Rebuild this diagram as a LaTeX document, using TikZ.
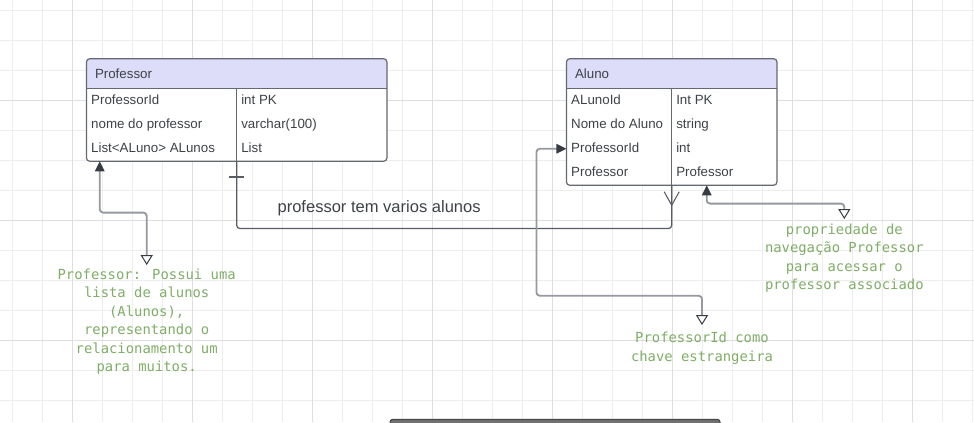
\documentclass[tikz,border=0pt]{standalone}
\usepackage{fontspec}
\setmainfont{Liberation Sans}
\newfontfamily\notefont{DejaVu Sans Mono}
\usetikzlibrary{arrows.meta,calc}

\definecolor{gridminor}{RGB}{237,237,237}
\definecolor{gridmajor}{RGB}{222,222,222}
\definecolor{headfill}{RGB}{221,221,250}
\definecolor{tableline}{RGB}{100,104,111}
\definecolor{textgray}{RGB}{62,66,72}
\definecolor{linkdark}{RGB}{88,92,100}
\definecolor{linklight}{RGB}{150,153,159}
\definecolor{tipdark}{RGB}{55,60,68}
\definecolor{notegreen}{RGB}{128,174,104}
\definecolor{barfill}{RGB}{112,112,112}
\definecolor{baredge}{RGB}{68,68,68}

\tikzset{
  gridthin/.style={draw=gridminor, line width=0.75pt},
  gridthick/.style={draw=gridmajor, line width=0.75pt},
  tablebox/.style={rectangle, draw=none, fill=white, inner sep=0pt},
  tableborder/.style={draw=tableline, line width=0.9pt},
  cell/.style={anchor=west, inner sep=0pt, text height=7.2pt, text depth=0pt,
    font=\fontsize{10}{12}\selectfont, text=textgray},
  reltext/.style={anchor=west, inner sep=0pt, text height=8.9pt, text depth=0pt,
    font=\fontsize{12.4}{15}\selectfont, text=textgray},
  notetext/.style={anchor=north, inner sep=0pt, align=center, text=notegreen,
    font=\notefont\fontsize{10.4}{13.875}\selectfont},
  relline/.style={draw=linkdark, line width=0.95pt, rounded corners=2.5pt},
  relmark/.style={draw=linkdark, line width=0.8pt},
  noteline/.style={draw=linklight, line width=1.4pt, rounded corners=2.5pt,
    {Triangle[length=7.5pt,width=7pt,color=tipdark]}-{Triangle[open,length=7.4pt,width=9pt,fill=white,color=tipdark,line width=0.75pt]}},
}

\begin{document}
\begin{tikzpicture}[x=0.75pt,y=-0.75pt]
  \useasboundingbox (0,0) rectangle (974,422);
  \fill[white] (0,0) rectangle (974,422);

  % background grid
  \foreach \i in {0,...,32} {
    \pgfmathsetmacro\gx{12.7+30*\i}
    \draw[gridthin] (\gx,0) -- (\gx,422);
  }
  \foreach \i in {0,...,13} {
    \pgfmathsetmacro\gy{10+30*\i}
    \draw[gridthin] (0,\gy) -- (974,\gy);
  }
  \foreach \i in {0,...,7} {
    \pgfmathsetmacro\gx{72.7+120*\i}
    \draw[gridthick] (\gx,0) -- (\gx,422);
  }
  \foreach \gy in {100,220,340} {
    \draw[gridthick] (0,\gy) -- (974,\gy);
  }

  % table: Professor
  \node[tablebox, minimum width=225pt, minimum height=76.5pt] (prof) at (236.7,110) {};
  \fill[headfill] ($(prof.north west)+(0,30)$) [rounded corners=2.5pt] -- (prof.north west)
    -- (prof.north east) [sharp corners] -- ($(prof.north east)+(0,30)$) -- cycle;
  \draw[tableborder, rounded corners=2.5pt] (prof.north west) rectangle (prof.south east);
  \draw[tableborder] ($(prof.north west)+(0,30)$) -- ($(prof.north east)+(0,30)$);
  \draw[tableborder] ($(prof.north)+(0,30)$) -- (prof.south);
  \node[cell] (profhead) at ($(prof.north west)+(8.3,15)$) {Professor};
  \node[cell] (profr1a) at ($(prof.north west)+(4.5,41)$) {ProfessorId};
  \node[cell] (profr1b) at ($(prof.north)+(4.3,41)$) {int PK};
  \node[cell] (profr2a) at ($(prof.north west)+(4.5,65)$) {nome do professor};
  \node[cell] (profr2b) at ($(prof.north)+(4.3,65)$) {varchar(100)};
  \node[cell] (profr3a) at ($(prof.north west)+(4.5,89)$) {List<ALuno> ALunos};
  \node[cell] (profr3b) at ($(prof.north)+(4.3,89)$) {List};

  % table: Aluno
  \node[tablebox, minimum width=157.5pt, minimum height=94.5pt] (aluno) at (671.7,122) {};
  \fill[headfill] ($(aluno.north west)+(0,30)$) [rounded corners=2.5pt] -- (aluno.north west)
    -- (aluno.north east) [sharp corners] -- ($(aluno.north east)+(0,30)$) -- cycle;
  \draw[tableborder, rounded corners=2.5pt] (aluno.north west) rectangle (aluno.south east);
  \draw[tableborder] ($(aluno.north west)+(0,30)$) -- ($(aluno.north east)+(0,30)$);
  \draw[tableborder] ($(aluno.north)+(0,30)$) -- (aluno.south);
  \node[cell] (alunohead) at ($(aluno.north west)+(8.3,15)$) {Aluno};
  \node[cell] (alunor1a) at ($(aluno.north west)+(4.5,41)$) {ALunoId};
  \node[cell] (alunor1b) at ($(aluno.north)+(4.3,41)$) {Int PK};
  \node[cell] (alunor2a) at ($(aluno.north west)+(4.5,65)$) {Nome do Aluno};
  \node[cell] (alunor2b) at ($(aluno.north)+(4.3,65)$) {string};
  \node[cell] (alunor3a) at ($(aluno.north west)+(4.5,89)$) {ProfessorId};
  \node[cell] (alunor3b) at ($(aluno.north)+(4.3,89)$) {int};
  \node[cell] (alunor4a) at ($(aluno.north west)+(4.5,113)$) {Professor};
  \node[cell] (alunor4b) at ($(aluno.north)+(4.3,113)$) {Professor};

  % one-to-many relationship
  \draw[relline] (prof.south) -- ++(0,67.3) -| (aluno.south);
  \draw[relmark] ($(prof.south)+(-7.7,15.7)$) -- ($(prof.south)+(7.7,15.7)$);
  \draw[relmark] ($(aluno.south)+(-7.5,6.5)$) -- ($(aluno.south)+(0,20)$) -- ($(aluno.south)+(7.5,6.5)$);
  \node[reltext] (rellabel) at (277.3,206.7) {professor tem varios alunos};

  % notes
  \node[notetext] (profnote) at (146.7,268.3) {Professor: Possui uma\\lista de alunos\\(Alunos),\\representando o\\relacionamento um\\para muitos.};
  \node[notetext] (alunonote) at (844.3,223.3) {propriedade de\\navegação Professor\\para acessar o\\professor associado};
  \node[notetext] (fknote) at (702,332) {ProfessorId como\\chave estrangeira};

  \draw[noteline] ($(prof.south west)+(13.3,0)$) -- ++(0,51.3) -| ($(profnote.north)+(0,-3.3)$);
  \draw[noteline] ($(aluno.south)+(35,0)$) -- ++(0,18.3) -| ($(alunonote.north)+(0,-4.3)$);
  \draw[noteline] ($(aluno.north west)+(0,90)$) -- ++(-30,0) -- ++(0,147) -| ($(fknote.north)+(0,-7)$);

  % toolbar edge at the bottom
  \fill[barfill, rounded corners=2pt] (390,419) rectangle (720,430);
  \draw[baredge, line width=0.75pt, rounded corners=2pt] (390,424) -- (390,419.4) -- (720,419.4) -- (720,424);
\end{tikzpicture}
\end{document}
